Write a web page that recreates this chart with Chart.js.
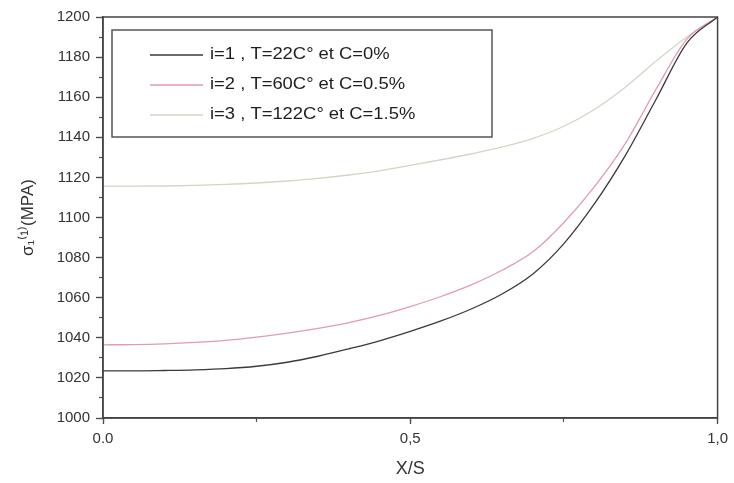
<!DOCTYPE html>
<html>
<head>
<meta charset="utf-8">
<script src="https://cdn.jsdelivr.net/npm/chart.js@4/dist/chart.umd.min.js"></script>
<style>
html,body{margin:0;padding:0;background:#fff;}
canvas{display:block;}
</style>
</head>
<body>
<canvas id="c" width="734" height="483"></canvas>
<script>
// ---- data ----
const xValues = [0,0.05,0.1,0.15,0.2,0.25,0.3,0.35,0.4,0.45,0.5,0.55,0.6,0.65,0.7,0.75,0.8,0.85,0.9,0.95,1.0];
const seriesLabels = ['i=1 , T=22C° et C=0%', 'i=2 , T=60C° et C=0.5%', 'i=3 , T=122C° et C=1.5%'];
const sigma1 = [1023.5,1023.5,1023.7,1024.0,1024.6,1025.8,1027.8,1030.8,1034.5,1038.5,1043.2,1048.4,1054.5,1062,1072,1087,1107,1131,1159,1187,1200];
const sigma2 = [1036.5,1036.6,1037,1037.7,1038.7,1040.3,1042.3,1044.7,1047.6,1051.2,1055.6,1060.6,1066.5,1073.8,1083,1097.5,1115.5,1137,1164,1189,1200];
const sigma3 = [1115.6,1115.6,1115.7,1116,1116.5,1117.2,1118.2,1119.5,1121.2,1123.3,1126,1128.8,1131.8,1135.2,1139.5,1145.5,1154,1165,1178,1190,1200];
const xTickLabels = ['0.0','0,5','1,0'];
const yMin = 1000, yMax = 1200;
const xTitle = 'X/S';
const yTitle = 'σ₁⁽¹⁾(MPA)';

const colors = ['#3a3a3a', '#e39bb0', '#d3d6c6'];
const allSeries = [sigma1, sigma2, sigma3];

const datasets = allSeries.map((s, i) => ({
  label: seriesLabels[i],
  data: xValues.map((x, k) => ({x: x, y: s[k]})),
  borderColor: colors[i],
  borderWidth: 1.3,
  pointRadius: 0,
  fill: false,
  cubicInterpolationMode: 'monotone'
}));

const frameAndLegend = {
  id: 'frameAndLegend',
  afterDraw(chart) {
    const {ctx, chartArea: a} = chart;
    ctx.save();
    ctx.strokeStyle = '#444';
    ctx.lineWidth = 1.5;
    ctx.strokeRect(a.left, a.top, a.right - a.left, a.bottom - a.top);
    const x0 = a.left + 9, y0 = a.top + 13, w = 380, h = 107;
    ctx.lineWidth = 1.5;
    ctx.strokeStyle = '#555';
    ctx.strokeRect(x0, y0, w, h);
    chart.data.datasets.forEach((ds, i) => {
      const y = y0 + 25 + i * 30;
      ctx.strokeStyle = ds.borderColor;
      ctx.lineWidth = 1.3;
      ctx.beginPath();
      ctx.moveTo(x0 + 38, y);
      ctx.lineTo(x0 + 91, y);
      ctx.stroke();
      ctx.fillStyle = '#1e1e1e';
      ctx.font = '16px "Liberation Sans", Arial, sans-serif';
      ctx.textBaseline = 'middle';
      ctx.textAlign = 'left';
      ctx.save();
      ctx.translate(x0 + 98, y);
      ctx.scale(1.15, 1);
      ctx.fillText(ds.label, 0, 0);
      ctx.restore();
    });
    ctx.restore();
  }
};

const tickFont = {family: '"Liberation Sans", Arial, sans-serif', size: 15};

new Chart(document.getElementById('c'), {
  type: 'line',
  data: {datasets},
  options: {
    responsive: false,
    animation: false,
    devicePixelRatio: 1,
    layout: {padding: {left: 0, right: 12, top: 17, bottom: 0}},
    plugins: {legend: {display: false}, tooltip: {enabled: false}},
    scales: {
      x: {
        type: 'linear', position: 'bottom', min: 0, max: 1, weight: 1,
        ticks: {
          stepSize: 0.5, color: '#333', font: tickFont, padding: 6, maxRotation: 0,
          callback: (v) => { const i = Math.round(v / 0.5); return xTickLabels[i]; }
        },
        grid: {drawOnChartArea: false, tickLength: 6, tickColor: '#444', tickWidth: 1.3},
        border: {color: '#444', width: 1.5},
        title: {display: true, text: xTitle, color: '#333', font: {family: '"Liberation Sans", Arial, sans-serif', size: 18}, padding: {top: 0, bottom: 3}},
        afterFit: (s) => { s.height = 65; }
      },
      x2: {
        type: 'linear', position: 'bottom', min: 0, max: 1, weight: 0,
        ticks: {stepSize: 0.25, display: false},
        grid: {drawOnChartArea: false, tickLength: 4, tickColor: '#555', tickWidth: 1.2},
        border: {display: false},
        afterFit: (s) => { s.height = 0; }
      },
      y: {
        type: 'linear', position: 'left', min: yMin, max: yMax, weight: 1,
        ticks: {stepSize: 20, color: '#333', font: tickFont, padding: 6, callback: (v) => String(v)},
        grid: {drawOnChartArea: false, tickLength: 7, tickColor: '#444', tickWidth: 1.3},
        border: {color: '#444', width: 1.5},
        title: {display: true, text: yTitle, color: '#333', font: {family: '"Liberation Sans", Arial, sans-serif', size: 17}, padding: {top: 18, bottom: 0}},
        afterFit: (s) => { s.width = 103; }
      },
      y2: {
        type: 'linear', position: 'left', min: yMin, max: yMax, weight: 0,
        ticks: {stepSize: 10, display: false},
        grid: {drawOnChartArea: false, tickLength: 4, tickColor: '#555', tickWidth: 1.2},
        border: {display: false},
        afterFit: (s) => { s.width = 0; }
      }
    }
  },
  plugins: [frameAndLegend]
});
</script>
</body>
</html>
